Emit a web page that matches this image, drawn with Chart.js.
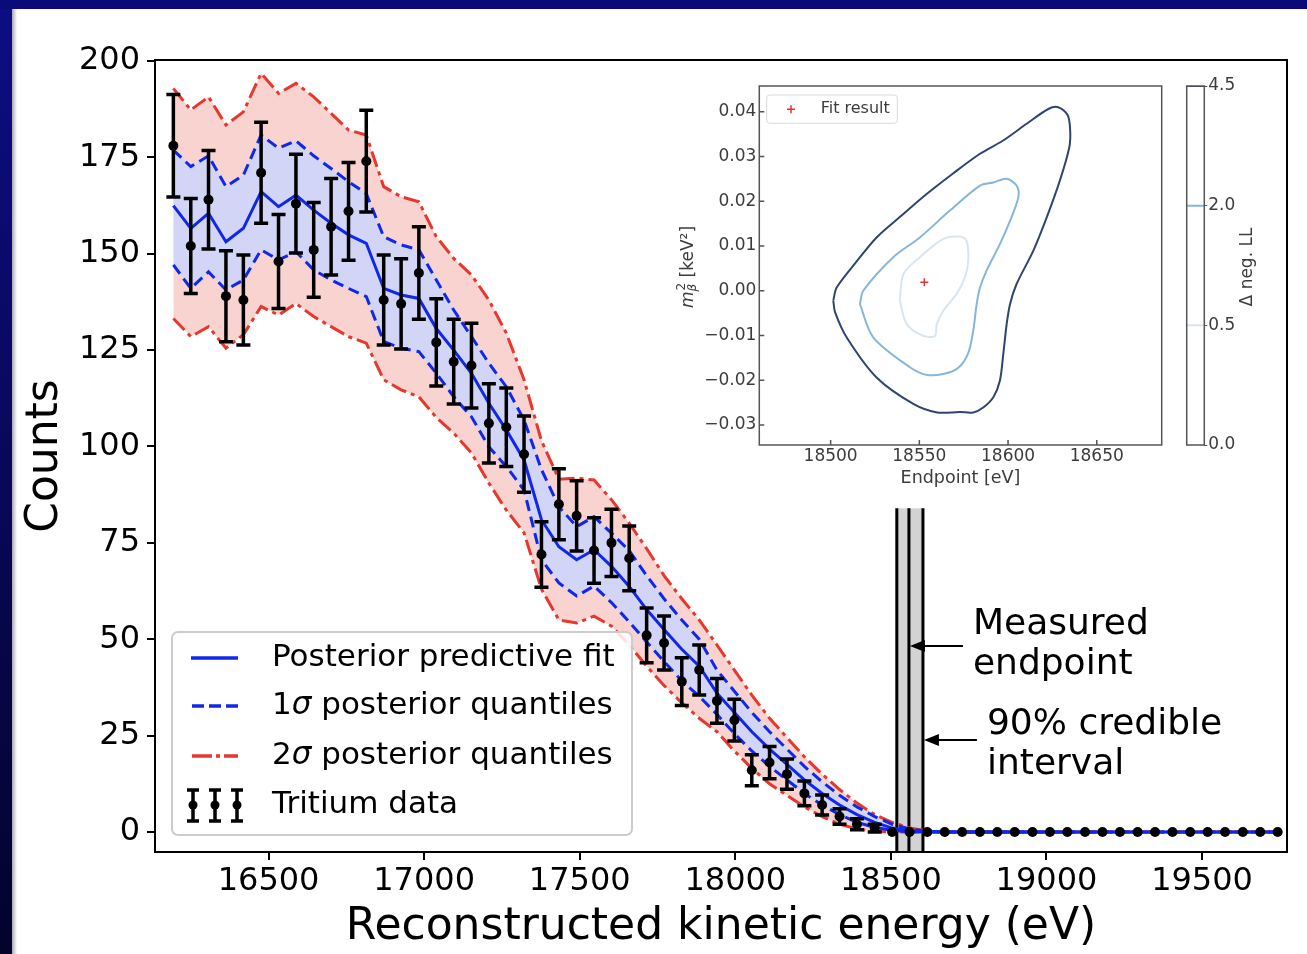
<!DOCTYPE html>
<html>
<head>
<meta charset="utf-8">
<title>Tritium endpoint fit</title>
<script src="https://cdn.jsdelivr.net/npm/chart.js@4.4.1/dist/chart.umd.min.js"></script>
<style>
  html, body { margin: 0; padding: 0; background: #fff; }
  body { width: 1307px; height: 954px; position: relative; overflow: hidden; }
  #navyLeft { position: absolute; left: 0; top: 0; width: 12px; height: 954px; background: linear-gradient(#0d0d84, #03032c); }
  #shadeLeft { position: absolute; left: 12px; top: 9px; width: 5px; height: 945px; background: linear-gradient(to right, #a8a8b4, #ffffff); }
  #navyTop { position: absolute; left: 0; top: 0; width: 1307px; height: 9px; background: #0a0a7a; }
  canvas { position: absolute; }
  #mainChart { left: 0; top: 0; }
  #insetChart { left: 660px; top: 70px; }
  #cbarChart { left: 1180px; top: 70px; }
</style>
</head>
<body>
<div id="navyLeft"></div>
<div id="shadeLeft"></div>
<div id="navyTop"></div>
<canvas id="mainChart" width="1307" height="954"></canvas>
<canvas id="insetChart" width="520" height="430"></canvas>
<canvas id="cbarChart" width="100" height="400"></canvas>
<script>
// main spectrum: bin energies (eV) and counts
const energies = [16194, 16250, 16307, 16363, 16419, 16476, 16532, 16588, 16645, 16701,
    16757, 16814, 16870, 16926, 16983, 17039, 17095, 17152, 17208, 17264,
    17321, 17377, 17433, 17490, 17546, 17602, 17659, 17715, 17771, 17828,
    17884, 17941, 17997, 18053, 18110, 18166, 18222, 18279, 18335, 18391,
    18448, 18504, 18560, 18617, 18673, 18729, 18786, 18842, 18898, 18955,
    19011, 19067, 19124, 19180, 19236, 19293, 19349, 19405, 19462, 19518,
    19574, 19631, 19687, 19743];
const counts = [178, 152, 164, 139, 138, 171, 148, 163, 151, 157,
    161, 174, 138, 137, 145, 127, 122, 121, 106, 105,
    98, 72, 85, 82, 73, 75, 71, 51, 49, 39,
    42, 34, 29, 16, 18, 15, 10, 7, 4, 2,
    1, 0, 0, 0, 0, 0, 0, 0, 0, 0,
    0, 0, 0, 0, 0, 0, 0, 0, 0, 0,
    0, 0, 0, 0];
const countErr = [13.3, 12.3, 12.8, 11.8, 11.7, 13.1, 12.2, 12.8, 12.3, 12.5,
    12.7, 13.2, 11.7, 11.7, 12.0, 11.3, 11.0, 11.0, 10.3, 10.2,
    9.9, 8.5, 9.2, 9.1, 8.5, 8.7, 8.4, 7.1, 7.0, 6.2,
    6.5, 5.8, 5.4, 4.0, 4.2, 3.9, 3.2, 2.6, 2.0, 1.4,
    1.0, 0, 0, 0, 0, 0, 0, 0, 0, 0,
    0, 0, 0, 0, 0, 0, 0, 0, 0, 0,
    0, 0, 0, 0];
const fitMedian = [162.5, 156.6, 160.5, 153.1, 156.6, 166.1, 162.2, 165.2, 161.3, 157.9,
    154.9, 152.7, 141.0, 139.3, 138.4, 130.6, 125.0, 119.0, 111.2, 104.3,
    96.5, 81.0, 74.0, 70.6, 73.2, 68.9, 63.7, 57.7, 52.5, 47.4,
    43.0, 36.0, 31.0, 26.0, 21.5, 17.5, 13.5, 10.0, 7.0, 4.5,
    2.5, 1.0, 0.3, 0.1, 0, 0, 0, 0, 0, 0,
    0, 0, 0, 0, 0, 0, 0, 0, 0, 0,
    0, 0, 0, 0];
const sigma1Upper = [176.9, 172.6, 175.4, 167.4, 170.4, 180.8, 177.4, 179.3, 175.4, 172.1,
    168.7, 165.6, 154.4, 152.3, 151.0, 143.2, 135.4, 128.5, 121.6, 115.5,
    106.9, 94.0, 84.4, 79.2, 81.8, 77.5, 73.0, 66.5, 60.5, 55.0,
    50.0, 42.0, 36.5, 31.0, 26.0, 21.5, 17.0, 13.0, 9.5, 6.5,
    4.0, 2.0, 0.8, 0.2, 0, 0, 0, 0, 0, 0,
    0, 0, 0, 0, 0, 0, 0, 0, 0, 0,
    0, 0, 0, 0];
const sigma1Lower = [147.1, 141.0, 145.3, 140.6, 143.2, 151.0, 148.4, 150.5, 145.8, 143.2,
    141.0, 138.9, 127.2, 125.5, 124.6, 119.0, 112.9, 107.7, 99.9, 94.8,
    88.7, 70.6, 64.6, 61.2, 63.8, 59.5, 54.5, 49.3, 44.2, 39.2,
    35.2, 30.5, 25.5, 21.0, 17.0, 13.5, 10.0, 7.0, 4.5, 2.5,
    1.2, 0.4, 0, 0, 0, 0, 0, 0, 0, 0,
    0, 0, 0, 0, 0, 0, 0, 0, 0, 0,
    0, 0, 0, 0];
const sigma2Upper = [192.9, 187.3, 190.7, 183.4, 186.8, 196.8, 191.6, 194.2, 190.7, 186.4,
    182.1, 180.8, 167.4, 164.8, 163.5, 154.4, 148.8, 144.5, 138.0, 129.4,
    117.3, 101.5, 91.5, 91.8, 91.3, 86.2, 80.1, 73.5, 66.5, 60.5,
    55.0, 48.5, 42.0, 35.5, 29.5, 24.5, 19.5, 15.0, 11.0, 7.5,
    4.5, 2.5, 1.0, 0.3, 0, 0, 0, 0, 0, 0,
    0, 0, 0, 0, 0, 0, 0, 0, 0, 0,
    0, 0, 0, 0];
const sigma2Lower = [133.2, 128.5, 131.1, 125.5, 129.0, 136.3, 134.1, 137.1, 133.7, 131.1,
    128.5, 126.8, 117.3, 114.7, 112.9, 107.5, 103.5, 98.3, 90.5, 83.5,
    77.6, 63.0, 55.0, 54.2, 56.0, 53.4, 48.5, 43.0, 38.0, 33.5,
    29.5, 26.0, 21.0, 16.5, 12.5, 9.5, 6.5, 4.0, 2.0, 0.8,
    0.2, 0, 0, 0, 0, 0, 0, 0, 0, 0,
    0, 0, 0, 0, 0, 0, 0, 0, 0, 0,
    0, 0, 0, 0];
const xTicks = [16500, 17000, 17500, 18000, 18500, 19000, 19500];
const yTicks = [0, 25, 50, 75, 100, 125, 150, 175, 200];

// endpoint and its 90% credible interval (eV)
const endpointMeasured = 18558;
const credibleLow = 18519;
const credibleHigh = 18603;

// inset: contours of delta neg. log-likelihood (endpoint eV, m_beta^2 keV^2)
const outerE = [18501.5, 18503.4, 18514.0, 18525.9, 18540.0, 18554.1, 18569.0, 18584.2, 18597.0, 18610.5,
    18622.7, 18628.3, 18633.5, 18635.0, 18634.5, 18629.2, 18621.8, 18614.2, 18604.8, 18601.1,
    18599.2, 18597.3, 18595.4, 18591.7, 18586.0, 18580.4, 18572.9, 18560.0, 18546.6, 18525.9,
    18509.0, 18502.5, 18501.5];
const outerM = [-0.0022, 0.0007, 0.0062, 0.0119, 0.0168, 0.0216, 0.0262, 0.0306, 0.0335, 0.0373,
    0.0406, 0.0410, 0.0393, 0.0360, 0.0320, 0.0246, 0.0164, 0.0089, 0.0015, -0.0030,
    -0.0075, -0.0142, -0.0201, -0.0238, -0.0261, -0.0272, -0.0271, -0.0272, -0.0253, -0.0194,
    -0.0104, -0.0048, -0.0022];
const midE = [18516.5, 18518.4, 18535.3, 18550.3, 18567.2, 18584.2, 18591.7, 18599.2, 18604.8, 18605.8,
    18601.1, 18595.4, 18587.9, 18584.2, 18582.3, 18580.4, 18577.5, 18572.0, 18563.5, 18554.1,
    18544.7, 18524.0, 18516.5];
const midM = [-0.0030, 0.0000, 0.0075, 0.0119, 0.0179, 0.0235, 0.0242, 0.0250, 0.0235, 0.0209,
    0.0156, 0.0104, 0.0045, 0.0007, -0.0030, -0.0089, -0.0140, -0.0172, -0.0186, -0.0188,
    -0.0171, -0.0104, -0.0030];
const innerE = [18539.0, 18541.0, 18550.3, 18563.5, 18572.9, 18576.6, 18577.6, 18575.7, 18571.0, 18563.5,
    18559.8, 18558.8, 18552.2, 18542.8, 18539.0];
const innerM = [-0.0022, 0.0037, 0.0075, 0.0116, 0.0121, 0.0112, 0.0067, 0.0030, -0.0007, -0.0045,
    -0.0075, -0.0101, -0.0101, -0.0074, -0.0022];
const fitResultE = 18552.8;
const fitResultM = 0.0019;
const insetXTicks = [18500, 18550, 18600, 18650];
const insetYTicks = [-0.03, -0.02, -0.01, 0.00, 0.01, 0.02, 0.03, 0.04];
const colorbarLevels = [0.0, 0.5, 2.0, 4.5];

const FONT = "'DejaVu Sans', sans-serif";
const BLUE = '#1028e8';
const RED = '#e6382c';
const PINK = '#f8d3d0';
const LAVENDER = '#d3d5f6';
const INSET_TEXT = '#3c3c3c';
const LEVEL_COLORS = ['#d9e5ef', '#86b6da', '#2f456f'];

function toPoints(xs, ys) {
    return xs.map((v, i) => ({ x: v, y: ys[i] }));
}

function lineSet(label, ys, color, dash, order, fill, bg) {
    return {
        label: label,
        data: toPoints(energies, ys),
        borderColor: color,
        borderWidth: 3,
        borderDash: dash,
        pointRadius: 0,
        tension: 0,
        fill: fill,
        backgroundColor: bg,
        order: order
    };
}

// gray credible band with the measured endpoint line
const bandPlugin = {
    id: 'endpointBand',
    beforeDatasetsDraw(chart) {
        const { ctx, chartArea: a, scales: { x } } = chart;
        const top = a.bottom - 0.434 * (a.bottom - a.top);
        const xl = x.getPixelForValue(credibleLow);
        const xh = x.getPixelForValue(credibleHigh);
        const xm = x.getPixelForValue(endpointMeasured);
        ctx.save();
        ctx.fillStyle = '#d3d3d3';
        ctx.fillRect(xl, top, xh - xl, a.bottom - top);
        ctx.strokeStyle = '#000';
        ctx.lineWidth = 3;
        ctx.beginPath();
        [xl, xm, xh].forEach(px => { ctx.moveTo(px, top); ctx.lineTo(px, a.bottom); });
        ctx.stroke();
        ctx.restore();
    }
};

const errorBarPlugin = {
    id: 'errorBars',
    afterDatasetsDraw(chart) {
        const { ctx, scales: { x, y } } = chart;
        ctx.save();
        ctx.strokeStyle = '#000';
        ctx.lineWidth = 3.5;
        ctx.beginPath();
        energies.forEach((e, i) => {
            if (!countErr[i]) return;
            const px = x.getPixelForValue(e);
            const top = y.getPixelForValue(counts[i] + countErr[i]);
            const bot = y.getPixelForValue(counts[i] - countErr[i]);
            ctx.moveTo(px, top); ctx.lineTo(px, bot);
            ctx.moveTo(px - 7, top); ctx.lineTo(px + 7, top);
            ctx.moveTo(px - 7, bot); ctx.lineTo(px + 7, bot);
        });
        ctx.stroke();
        ctx.restore();
    }
};

function arrow(ctx, x0, x1, yy) {
    // shaft from x0 (tail) to x1 (tip), pointing left
    ctx.beginPath();
    ctx.moveTo(x0, yy);
    ctx.lineTo(x1 + 12, yy);
    ctx.stroke();
    ctx.beginPath();
    ctx.moveTo(x1, yy);
    ctx.lineTo(x1 + 15, yy - 6);
    ctx.lineTo(x1 + 15, yy + 6);
    ctx.closePath();
    ctx.fill();
}

function drawParts(ctx, parts, x, y, size) {
    let cx = x;
    parts.forEach(([txt, italic]) => {
        ctx.font = (italic ? 'italic ' : '') + size + 'px ' + FONT;
        ctx.fillText(txt, cx, y);
        cx += ctx.measureText(txt).width;
    });
}

const overlayPlugin = {
    id: 'overlay',
    afterDraw(chart) {
        const { ctx, chartArea: a, scales: { x } } = chart;
        ctx.save();
        // axes frame
        ctx.strokeStyle = '#000';
        ctx.lineWidth = 2;
        ctx.strokeRect(a.left, a.top, a.right - a.left, a.bottom - a.top);

        // annotations
        const xm = x.getPixelForValue(endpointMeasured);
        const xh = x.getPixelForValue(credibleHigh);
        ctx.fillStyle = '#000';
        ctx.lineWidth = 2;
        arrow(ctx, xm + 54, xm + 1, 646);
        arrow(ctx, xh + 54, xh + 1, 740);
        ctx.font = '36px ' + FONT;
        ctx.textBaseline = 'alphabetic';
        ctx.textAlign = 'left';
        ctx.fillText('Measured', xm + 64, 634);
        ctx.fillText('endpoint', xm + 64, 674);
        ctx.fillText('90% credible', xh + 64, 734);
        ctx.fillText('interval', xh + 64, 774);

        // legend
        ctx.beginPath();
        ctx.roundRect(172, 632, 460, 203, 6);
        ctx.fillStyle = 'rgba(255,255,255,0.85)';
        ctx.fill();
        ctx.strokeStyle = '#cccccc';
        ctx.lineWidth = 2;
        ctx.stroke();

        ctx.lineWidth = 3.5;
        ctx.strokeStyle = BLUE;
        ctx.beginPath(); ctx.moveTo(191, 658); ctx.lineTo(238, 658); ctx.stroke();
        ctx.setLineDash([12, 5]);
        ctx.beginPath(); ctx.moveTo(192, 706); ctx.lineTo(238, 706); ctx.stroke();
        ctx.strokeStyle = RED;
        ctx.setLineDash([20, 4, 4, 4]);
        ctx.beginPath(); ctx.moveTo(192, 756); ctx.lineTo(238, 756); ctx.stroke();
        ctx.setLineDash([]);
        ctx.strokeStyle = '#000';
        ctx.fillStyle = '#000';
        [193, 215, 237].forEach(px => {
            ctx.beginPath();
            ctx.moveTo(px, 790); ctx.lineTo(px, 821);
            ctx.moveTo(px - 6, 790); ctx.lineTo(px + 6, 790);
            ctx.moveTo(px - 6, 821); ctx.lineTo(px + 6, 821);
            ctx.stroke();
            ctx.beginPath(); ctx.arc(px, 805, 4.5, 0, Math.PI * 2); ctx.fill();
        });
        ctx.textBaseline = 'middle';
        drawParts(ctx, [['Posterior predictive fit', false]], 272, 658, 31);
        drawParts(ctx, [['1', false], ['\u03c3', true], [' posterior quantiles', false]], 272, 706, 31);
        drawParts(ctx, [['2', false], ['\u03c3', true], [' posterior quantiles', false]], 272, 756, 31);
        drawParts(ctx, [['Tritium data', false]], 272, 805, 31);
        ctx.restore();
    }
};

new Chart(document.getElementById('mainChart'), {
    type: 'line',
    data: {
        datasets: [
            {
                label: 'Tritium data',
                data: toPoints(energies, counts),
                showLine: false,
                pointRadius: 5,
                pointBackgroundColor: '#000',
                pointBorderWidth: 0,
                order: 0
            },
            lineSet('Posterior predictive fit', fitMedian, BLUE, [], 1, false, 'transparent'),
            lineSet('1\u03c3 upper', sigma1Upper, BLUE, [11, 6], 2, '+1', LAVENDER),
            lineSet('1\u03c3 lower', sigma1Lower, BLUE, [11, 6], 2, false, 'transparent'),
            lineSet('2\u03c3 upper', sigma2Upper, RED, [16, 5, 4, 5], 3, '+1', PINK),
            lineSet('2\u03c3 lower', sigma2Lower, RED, [16, 5, 4, 5], 3, false, 'transparent')
        ]
    },
    options: {
        responsive: false,
        animation: false,
        devicePixelRatio: 1,
        layout: { autoPadding: false, padding: { left: 0, top: 60, right: 20, bottom: 0 } },
        plugins: {
            legend: { display: false },
            tooltip: { enabled: false },
            filler: { drawTime: 'beforeDatasetsDraw' }
        },
        scales: {
            x: {
                type: 'linear',
                min: 16135,
                max: 19773,
                afterBuildTicks: s => { s.ticks = xTicks.map(v => ({ value: v })); },
                afterFit: s => { s.height = 102; },
                ticks: {
                    font: { family: FONT, size: 32 },
                    color: '#000',
                    padding: 2,
                    autoSkip: false,
                    maxRotation: 0,
                    callback: v => String(v)
                },
                grid: { drawOnChartArea: false, tickLength: 8, color: '#000', lineWidth: 2 },
                border: { color: '#000', width: 2 },
                title: {
                    display: true,
                    text: 'Reconstructed kinetic energy (eV)',
                    font: { family: FONT, size: 44 },
                    color: '#000',
                    padding: { top: 0, bottom: 0 }
                }
            },
            y: {
                type: 'linear',
                min: -5.2,
                max: 200.26,
                afterBuildTicks: s => { s.ticks = yTicks.map(v => ({ value: v })); },
                afterFit: s => { s.width = 155; },
                ticks: {
                    font: { family: FONT, size: 32 },
                    color: '#000',
                    padding: 7,
                    callback: v => String(v)
                },
                grid: { drawOnChartArea: false, tickLength: 8, color: '#000', lineWidth: 2 },
                border: { color: '#000', width: 2 },
                title: {
                    display: true,
                    text: 'Counts',
                    font: { family: FONT, size: 44 },
                    color: '#000',
                    padding: { top: 19, bottom: 0 }
                }
            }
        }
    },
    plugins: [bandPlugin, errorBarPlugin, overlayPlugin]
});

// inset contour plot
const insetPlugin = {
    id: 'insetDecor',
    afterDraw(chart) {
        const { ctx, chartArea: a, scales: { x, y } } = chart;
        ctx.save();
        ctx.strokeStyle = '#555';
        ctx.lineWidth = 1.5;
        ctx.strokeRect(a.left, a.top, a.right - a.left, a.bottom - a.top);
        ctx.beginPath();
        insetXTicks.forEach(v => {
            const px = x.getPixelForValue(v);
            ctx.moveTo(px, a.bottom); ctx.lineTo(px, a.bottom - 5);
        });
        insetYTicks.forEach(v => {
            const py = y.getPixelForValue(v);
            ctx.moveTo(a.left, py); ctx.lineTo(a.left + 5, py);
        });
        ctx.stroke();

        // y label  m_beta^2 [keV^2]
        ctx.fillStyle = INSET_TEXT;
        ctx.textBaseline = 'middle';
        ctx.textAlign = 'left';
        ctx.save();
        ctx.translate(29, 197);
        ctx.rotate(-Math.PI / 2);
        ctx.font = 'italic 17px ' + FONT;
        const wm = ctx.measureText('m').width;
        ctx.font = 'italic 12px ' + FONT;
        const wb = ctx.measureText('\u03b2').width;
        ctx.font = '17px ' + FONT;
        const wr = ctx.measureText(' [keV\u00b2]').width;
        const start = -(wm + wb + 1 + wr) / 2;
        ctx.font = 'italic 17px ' + FONT;
        ctx.fillText('m', start, 0);
        ctx.font = 'italic 12px ' + FONT;
        ctx.fillText('\u03b2', start + wm, 4);
        ctx.font = '12px ' + FONT;
        ctx.fillText('2', start + wm + 1, -7);
        ctx.font = '17px ' + FONT;
        ctx.fillText(' [keV\u00b2]', start + wm + wb + 1, 0);
        ctx.restore();

        // legend
        ctx.beginPath();
        ctx.roundRect(106.7, 25, 130.6, 28.3, 3);
        ctx.fillStyle = 'rgba(255,255,255,0.9)';
        ctx.fill();
        ctx.strokeStyle = '#d9d9d9';
        ctx.lineWidth = 1;
        ctx.stroke();
        ctx.strokeStyle = '#e8332a';
        ctx.lineWidth = 1.5;
        ctx.beginPath();
        ctx.moveTo(127, 39.3); ctx.lineTo(135, 39.3);
        ctx.moveTo(131, 35.3); ctx.lineTo(131, 43.3);
        ctx.stroke();
        ctx.fillStyle = INSET_TEXT;
        ctx.font = '16px ' + FONT;
        ctx.fillText('Fit result', 160.7, 39.3);
        ctx.restore();
    }
};

function contourSet(label, xs, ys, color) {
    return {
        label: label,
        data: toPoints(xs, ys),
        borderColor: color,
        borderWidth: 2,
        pointRadius: 0,
        tension: 0.3,
        fill: false
    };
}

new Chart(document.getElementById('insetChart'), {
    type: 'line',
    data: {
        datasets: [
            contourSet('4.5', outerE, outerM, LEVEL_COLORS[2]),
            contourSet('2.0', midE, midM, LEVEL_COLORS[1]),
            contourSet('0.5', innerE, innerM, LEVEL_COLORS[0]),
            {
                label: 'Fit result',
                data: [{ x: fitResultE, y: fitResultM }],
                showLine: false,
                pointStyle: 'cross',
                pointRadius: 4,
                pointBorderColor: '#e8332a',
                pointBorderWidth: 1.5
            }
        ]
    },
    options: {
        responsive: false,
        animation: false,
        devicePixelRatio: 1,
        layout: { autoPadding: false, padding: { left: 0, top: 16, right: 18.3, bottom: 0 } },
        plugins: { legend: { display: false }, tooltip: { enabled: false } },
        scales: {
            x: {
                type: 'linear',
                min: 18459.8,
                max: 18686.6,
                afterBuildTicks: s => { s.ticks = insetXTicks.map(v => ({ value: v })); },
                afterFit: s => { s.height = 55; },
                ticks: { font: { family: FONT, size: 17 }, color: INSET_TEXT, padding: 1.5, maxRotation: 0, callback: v => String(v) },
                grid: { display: false, drawTicks: false },
                border: { display: false },
                title: {
                    display: true,
                    text: 'Endpoint [eV]',
                    font: { family: FONT, size: 17.5 },
                    color: INSET_TEXT,
                    padding: { top: 0, bottom: 11.5 }
                }
            },
            y: {
                type: 'linear',
                min: -0.03447,
                max: 0.04574,
                afterBuildTicks: s => { s.ticks = insetYTicks.map(v => ({ value: v })); },
                afterFit: s => { s.width = 99.3; },
                ticks: {
                    font: { family: FONT, size: 17 },
                    color: INSET_TEXT,
                    padding: 3,
                    callback: v => (v < -1e-9 ? '\u2212' + (-v).toFixed(2) : Math.abs(v).toFixed(2))
                },
                grid: { display: false, drawTicks: false },
                border: { display: false }
            }
        }
    },
    plugins: [insetPlugin]
});

// colorbar for the contour levels
const cbarPlugin = {
    id: 'cbarDecor',
    afterDraw(chart) {
        const { ctx, chartArea: a } = chart;
        ctx.save();
        ctx.strokeStyle = '#555';
        ctx.lineWidth = 1.5;
        ctx.strokeRect(a.left, a.top, a.right - a.left, a.bottom - a.top);
        ctx.translate(68, 197);
        ctx.rotate(-Math.PI / 2);
        ctx.font = '17px ' + FONT;
        ctx.fillStyle = INSET_TEXT;
        ctx.textAlign = 'center';
        ctx.textBaseline = 'middle';
        ctx.fillText('\u0394 neg. LL', 0, 0);
        ctx.restore();
    }
};

new Chart(document.getElementById('cbarChart'), {
    type: 'line',
    data: {
        datasets: colorbarLevels.slice(1).map((lvl, i) => ({
            label: String(lvl),
            data: [{ x: 0, y: i + 1 }, { x: 1, y: i + 1 }],
            borderColor: LEVEL_COLORS[i],
            borderWidth: 2,
            pointRadius: 0
        }))
    },
    options: {
        responsive: false,
        animation: false,
        devicePixelRatio: 1,
        layout: { autoPadding: false, padding: { left: 6.7, top: 16, right: 0, bottom: 25 } },
        plugins: { legend: { display: false }, tooltip: { enabled: false } },
        scales: {
            x: { type: 'linear', display: false, min: 0, max: 1 },
            y: {
                type: 'linear',
                position: 'right',
                min: 0,
                max: 3,
                afterBuildTicks: s => { s.ticks = colorbarLevels.map((v, i) => ({ value: i })); },
                afterFit: s => { s.width = 75.7; },
                ticks: {
                    font: { family: FONT, size: 17 },
                    color: INSET_TEXT,
                    padding: 1,
                    callback: v => colorbarLevels[v].toFixed(1)
                },
                grid: { drawOnChartArea: false, tickLength: 3, color: '#555', lineWidth: 1 },
                border: { display: false }
            }
        }
    },
    plugins: [cbarPlugin]
});
</script>
</body>
</html>
